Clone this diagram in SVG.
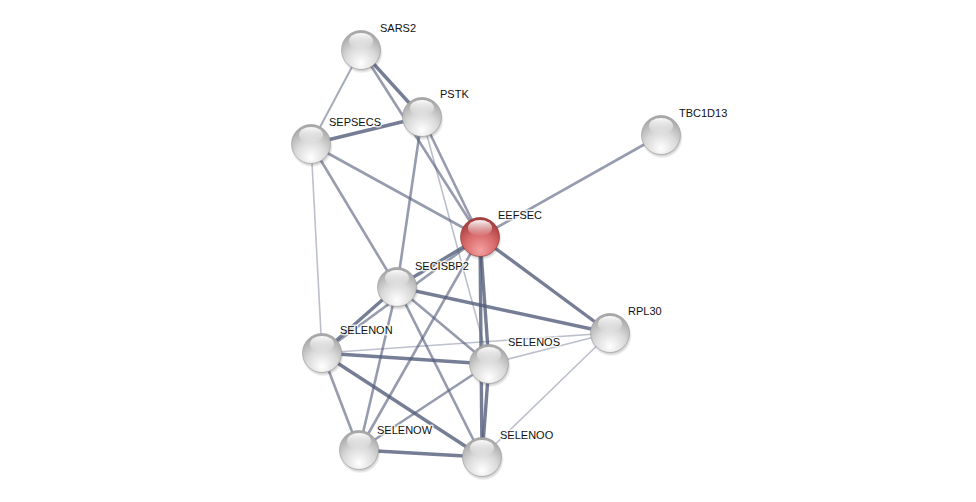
<svg xmlns="http://www.w3.org/2000/svg" width="976" height="502" viewBox="0 0 976 502">
<style>
.e{stroke:#505a78;fill:none;stroke-linecap:butt}
.e3{stroke-width:3.4;stroke-opacity:0.78}
.e2{stroke-width:2.6;stroke-opacity:0.6}
.e1{stroke-width:1.6;stroke-opacity:0.38}
.lbl{font-family:"Liberation Sans",Arial,sans-serif;font-size:11px;fill:#111;paint-order:stroke;stroke:#ffffff;stroke-opacity:0.75;stroke-width:3px;stroke-linejoin:round}
</style>
<defs>
<radialGradient id="gg" cx="0.5" cy="0.78" r="0.72" fx="0.5" fy="0.85">
<stop offset="0" stop-color="#ffffff"/>
<stop offset="0.55" stop-color="#dadada"/>
<stop offset="1" stop-color="#a8a8a8"/>
</radialGradient>
<radialGradient id="rg" cx="0.5" cy="0.78" r="0.72" fx="0.5" fy="0.85">
<stop offset="0" stop-color="#f4a2a2"/>
<stop offset="0.55" stop-color="#d86a6a"/>
<stop offset="1" stop-color="#a83d3d"/>
</radialGradient>
<linearGradient id="hl" x1="0" y1="0" x2="0" y2="1">
<stop offset="0" stop-color="#ffffff" stop-opacity="0.95"/>
<stop offset="1" stop-color="#ffffff" stop-opacity="0"/>
</linearGradient>
<radialGradient id="sh" cx="0.5" cy="0.5" r="0.5">
<stop offset="0.7" stop-color="#000" stop-opacity="0.35"/>
<stop offset="1" stop-color="#000" stop-opacity="0"/>
</radialGradient>
<g id="ball">
<circle cx="1" cy="2.5" r="21" fill="url(#sh)"/>
<circle r="19.5" fill="url(#gg)" stroke="#9a9a9a" stroke-width="0.6"/>
<ellipse cx="0" cy="-9" rx="12" ry="8" fill="url(#hl)"/>
</g>
<g id="rball">
<circle cx="1" cy="2.5" r="21" fill="url(#sh)"/>
<circle r="19.5" fill="url(#rg)" stroke="#8a3030" stroke-width="0.6"/>
<ellipse cx="0" cy="-9" rx="12" ry="8" fill="url(#hl)"/>
</g>
</defs>
<rect width="976" height="502" fill="#ffffff"/>
<g id="edges">
<line class="e e3" x1="361" y1="50" x2="422" y2="117"/>
<line class="e e1" x1="361" y1="50" x2="311" y2="144" style="stroke-opacity:0.5;stroke-width:2"/>
<line class="e e2" x1="361" y1="50" x2="480" y2="237"/>
<line class="e e3" x1="422" y1="117" x2="311" y2="144"/>
<line class="e e2" x1="422" y1="117" x2="480" y2="237"/>
<line class="e e2" x1="422" y1="117" x2="397" y2="287"/>
<line class="e e1" x1="422" y1="117" x2="489" y2="364"/>
<line class="e e2" x1="311" y1="144" x2="480" y2="237"/>
<line class="e e2" x1="311" y1="144" x2="397" y2="287"/>
<line class="e e1" x1="311" y1="144" x2="322" y2="353"/>
<line class="e e2" x1="661" y1="135" x2="480" y2="237"/>
<line class="e e3" x1="480" y1="237" x2="397" y2="287"/>
<line class="e e3" x1="480" y1="237" x2="610" y2="333"/>
<line class="e e3" x1="480" y1="237" x2="489" y2="364"/>
<line class="e e3" x1="480" y1="237" x2="482" y2="457"/>
<line class="e e2" x1="480" y1="237" x2="359" y2="450"/>
<line class="e e2" x1="480" y1="237" x2="322" y2="353"/>
<line class="e e3" x1="397" y1="287" x2="610" y2="333"/>
<line class="e e3" x1="397" y1="287" x2="322" y2="353"/>
<line class="e e2" x1="397" y1="287" x2="489" y2="364"/>
<line class="e e2" x1="397" y1="287" x2="482" y2="457"/>
<line class="e e2" x1="397" y1="287" x2="359" y2="450"/>
<line class="e e3" x1="322" y1="353" x2="489" y2="364"/>
<line class="e e1" x1="322" y1="353" x2="610" y2="333"/>
<line class="e e3" x1="322" y1="353" x2="482" y2="457"/>
<line class="e e2" x1="322" y1="353" x2="359" y2="450"/>
<line class="e e1" x1="489" y1="364" x2="610" y2="333"/>
<line class="e e3" x1="489" y1="364" x2="482" y2="457"/>
<line class="e e2" x1="489" y1="364" x2="359" y2="450"/>
<line class="e e1" x1="482" y1="457" x2="610" y2="333"/>
<line class="e e3" x1="482" y1="457" x2="359" y2="450"/>
</g>
<g id="SARS2"><use href="#ball" x="361" y="50"/><text class="lbl" x="380" y="32">SARS2</text></g>
<g id="PSTK"><use href="#ball" x="422" y="117"/><text class="lbl" x="440" y="98">PSTK</text></g>
<g id="SEPSECS"><use href="#ball" x="311" y="144"/><text class="lbl" x="329" y="126">SEPSECS</text></g>
<g id="TBC1D13"><use href="#ball" x="661" y="135"/><text class="lbl" x="679" y="117">TBC1D13</text></g>
<g id="EEFSEC"><use href="#rball" x="480" y="237"/><text class="lbl" x="498" y="219">EEFSEC</text></g>
<g id="SECISBP2"><use href="#ball" x="397" y="287"/><text class="lbl" x="415" y="270">SECISBP2</text></g>
<g id="RPL30"><use href="#ball" x="610" y="333"/><text class="lbl" x="628" y="315">RPL30</text></g>
<g id="SELENON"><use href="#ball" x="322" y="353"/><text class="lbl" x="340" y="334">SELENON</text></g>
<g id="SELENOS"><use href="#ball" x="489" y="364"/><text class="lbl" x="508" y="346">SELENOS</text></g>
<g id="SELENOW"><use href="#ball" x="359" y="450"/><text class="lbl" x="377" y="434">SELENOW</text></g>
<g id="SELENOO"><use href="#ball" x="482" y="457"/><text class="lbl" x="500" y="439">SELENOO</text></g>
</svg>
